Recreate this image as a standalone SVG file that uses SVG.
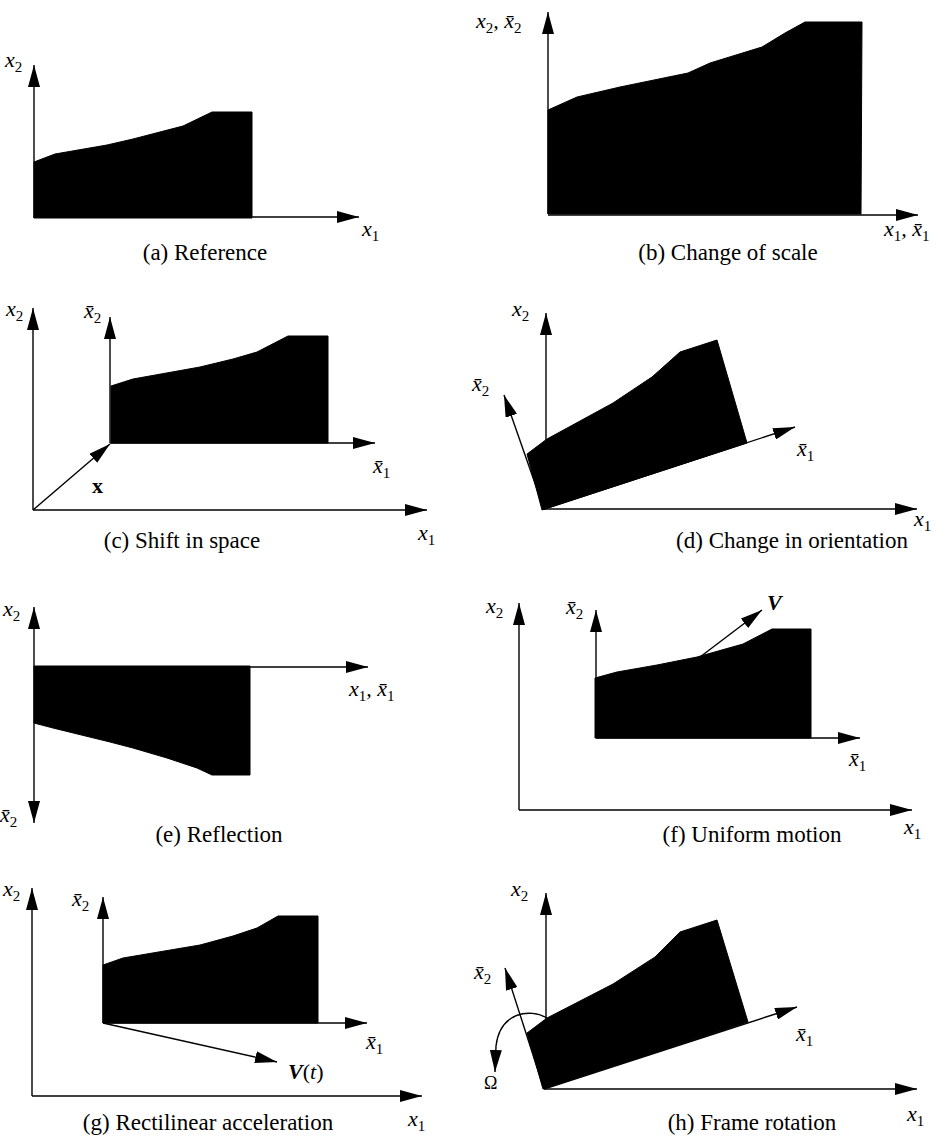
<svg xmlns="http://www.w3.org/2000/svg" width="946" height="1137" viewBox="0 0 946 1137">
<style>
.ax{stroke:#000;stroke-width:1.4;fill:none;marker-end:url(#ah)}
.sh{fill:#000;stroke:#000;stroke-width:1}
.lb{font-family:"Liberation Serif","Times New Roman","DejaVu Serif",serif;font-style:italic;font-size:22px;fill:#000}
.sb{font-style:normal;font-size:15px}
.cap{font-family:"Liberation Serif","Times New Roman","DejaVu Serif",serif;font-size:23px;fill:#000;text-anchor:middle}
.bd{font-weight:bold}
</style>
<defs>
<marker id="ah" markerWidth="22" markerHeight="12" refX="22" refY="6" orient="auto" markerUnits="userSpaceOnUse">
<path d="M0,0 L22,6 L0,12 z" fill="#000"/>
</marker>
</defs>
<rect width="946" height="1137" fill="#fff"/>

<!-- (a) -->
<g id="panel-a">
<polygon class="sh" points="34,162 55,154 107,145 133,139 183,126 212,112 252,112 252,218 34,218"/>
<g id="conn-a">
<line class="ax" x1="34" y1="218" x2="34" y2="65"/>
<line class="ax" x1="34" y1="217" x2="359" y2="217"/>
</g>
<text class="lb" x="5" y="67">x<tspan class="sb" dy="5">2</tspan></text>
<text class="lb" x="362" y="236">x<tspan class="sb" dy="5">1</tspan></text>
<text class="cap" x="205" y="260">(a) Reference</text>
</g>

<!-- (b) -->
<g id="panel-b">
<polygon class="sh" points="548,110 577,97 620,87 688,73 710,63 762,47 785,33 805,22 862,22 861,214 548,214"/>
<g id="conn-b">
<line class="ax" x1="548" y1="214" x2="548" y2="12"/>
<line class="ax" x1="548" y1="215" x2="918" y2="215"/>
</g>
<text class="lb" x="476" y="28">x<tspan class="sb" dy="5">2</tspan><tspan dy="-5">,  x̄</tspan><tspan class="sb" dy="5">2</tspan></text>
<text class="lb" x="884" y="236">x<tspan class="sb" dy="5">1</tspan><tspan dy="-5">,  x̄</tspan><tspan class="sb" dy="5">1</tspan></text>
<text class="cap" x="728" y="260">(b) Change of scale</text>
</g>

<!-- (c) -->
<g id="panel-c">
<polygon class="sh" points="111,386 133,379 200,367 233,359 257,352 288,336 328,336 328,443 111,443"/>
<g id="conn-c">
<line class="ax" x1="33" y1="510" x2="33" y2="308"/>
<line class="ax" x1="33" y1="510" x2="427" y2="510"/>
<line class="ax" x1="110" y1="443" x2="110" y2="317"/>
<line class="ax" x1="110" y1="443" x2="375" y2="443"/>
<line class="ax" x1="33" y1="510" x2="110" y2="444"/>
</g>
<text class="lb" x="6" y="316">x<tspan class="sb" dy="5">2</tspan></text>
<text class="lb" x="84" y="318">x̄<tspan class="sb" dy="5">2</tspan></text>
<text class="lb" x="373" y="473">x̄<tspan class="sb" dy="5">1</tspan></text>
<text class="lb bd" x="92" y="493" style="font-style:normal">x</text>
<text class="lb" x="418" y="540">x<tspan class="sb" dy="5">1</tspan></text>
<text class="cap" x="182" y="548">(c) Shift in space</text>
</g>

<!-- (d) -->
<g id="panel-d">
<polygon class="sh" points="527,454 542,510 747,443 717,340 680,352 652,377 613,403 547,439"/>
<g id="conn-d">
<line class="ax" x1="546" y1="509" x2="546" y2="313"/>
<line class="ax" x1="544" y1="509" x2="917" y2="509"/>
<line class="ax" x1="544" y1="509" x2="795" y2="427"/>
<line class="ax" x1="544" y1="509" x2="504" y2="395"/>
</g>
<text class="lb" x="512" y="316">x<tspan class="sb" dy="5">2</tspan></text>
<text class="lb" x="472" y="391">x̄<tspan class="sb" dy="5">2</tspan></text>
<text class="lb" x="797" y="456">x̄<tspan class="sb" dy="5">1</tspan></text>
<text class="lb" x="914" y="526">x<tspan class="sb" dy="5">1</tspan></text>
<text class="cap" x="792" y="548">(d) Change in orientation</text>
</g>

<!-- (e) -->
<g id="panel-e">
<polygon class="sh" points="34,666 250,666 250,775 212,775 197,768 167,758 133,748 110,742 53,728 34,723"/>
<g id="conn-e">
<line class="ax" x1="34" y1="667" x2="34" y2="607"/>
<line class="ax" x1="34" y1="667" x2="34" y2="823"/>
<line class="ax" x1="34" y1="667" x2="368" y2="667"/>
</g>
<text class="lb" x="3" y="616">x<tspan class="sb" dy="5">2</tspan></text>
<text class="lb" x="0" y="822">x̄<tspan class="sb" dy="5">2</tspan></text>
<text class="lb" x="349" y="696">x<tspan class="sb" dy="5">1</tspan><tspan dy="-5">,  x̄</tspan><tspan class="sb" dy="5">1</tspan></text>
<text class="cap" x="219" y="842">(e) Reflection</text>
</g>

<!-- (f) -->
<g id="panel-f">
<polygon class="sh" points="595,678 617,672 657,665 697,657 743,644 772,629 811,629 811,738 595,738"/>
<g id="conn-f">
<line class="ax" x1="519" y1="810" x2="519" y2="603"/>
<line class="ax" x1="519" y1="810" x2="912" y2="810"/>
<line class="ax" x1="596" y1="738" x2="596" y2="610"/>
<line class="ax" x1="596" y1="738" x2="860" y2="738"/>
<line class="ax" x1="700" y1="657" x2="762" y2="610"/>
</g>
<text class="lb" x="486" y="613">x<tspan class="sb" dy="5">2</tspan></text>
<text class="lb" x="566" y="614">x̄<tspan class="sb" dy="5">2</tspan></text>
<text class="lb bd" x="767" y="610">V</text>
<text class="lb" x="849" y="766">x̄<tspan class="sb" dy="5">1</tspan></text>
<text class="lb" x="904" y="834">x<tspan class="sb" dy="5">1</tspan></text>
<text class="cap" x="752" y="842">(f) Uniform motion</text>
</g>

<!-- (g) -->
<g id="panel-g">
<polygon class="sh" points="103,965 123,958 200,945 233,936 257,928 278,916 318,916 318,1023 103,1023"/>
<g id="conn-g">
<line class="ax" x1="32" y1="1096" x2="32" y2="888"/>
<line class="ax" x1="32" y1="1096" x2="422" y2="1096"/>
<line class="ax" x1="103" y1="1023" x2="103" y2="897"/>
<line class="ax" x1="103" y1="1023" x2="367" y2="1023"/>
<line class="ax" x1="103" y1="1023" x2="277" y2="1062"/>
</g>
<text class="lb" x="3" y="896">x<tspan class="sb" dy="5">2</tspan></text>
<text class="lb" x="72" y="906">x̄<tspan class="sb" dy="5">2</tspan></text>
<text class="lb" x="366" y="1049">x̄<tspan class="sb" dy="5">1</tspan></text>
<text class="lb" x="288" y="1079"><tspan class="bd">V</tspan><tspan style="font-style:normal">(</tspan>t<tspan style="font-style:normal">)</tspan></text>
<text class="lb" x="408" y="1126">x<tspan class="sb" dy="5">1</tspan></text>
<text class="cap" x="208" y="1130">(g) Rectilinear acceleration</text>
</g>

<!-- (h) -->
<g id="panel-h">
<polygon class="sh" points="527,1033 543,1089 748,1022 717,920 680,932 655,957 613,984 547,1018"/>
<g id="conn-h">
<line class="ax" x1="546" y1="1089" x2="546" y2="893"/>
<line class="ax" x1="544" y1="1089" x2="917" y2="1089"/>
<line class="ax" x1="544" y1="1089" x2="797" y2="1007"/>
<line class="ax" x1="544" y1="1089" x2="505" y2="968"/>
<path class="ax" d="M547 1018 C530 1008 500 1012 496 1046 L495 1072"/>
</g>
<text class="lb" x="511" y="896">x<tspan class="sb" dy="5">2</tspan></text>
<text class="lb" x="474" y="979">x̄<tspan class="sb" dy="5">2</tspan></text>
<text class="lb" x="484" y="1089" style="font-style:normal;font-size:18px">Ω</text>
<text class="lb" x="796" y="1041">x̄<tspan class="sb" dy="5">1</tspan></text>
<text class="lb" x="907" y="1121">x<tspan class="sb" dy="5">1</tspan></text>
<text class="cap" x="752" y="1130">(h) Frame rotation</text>
</g>
</svg>
